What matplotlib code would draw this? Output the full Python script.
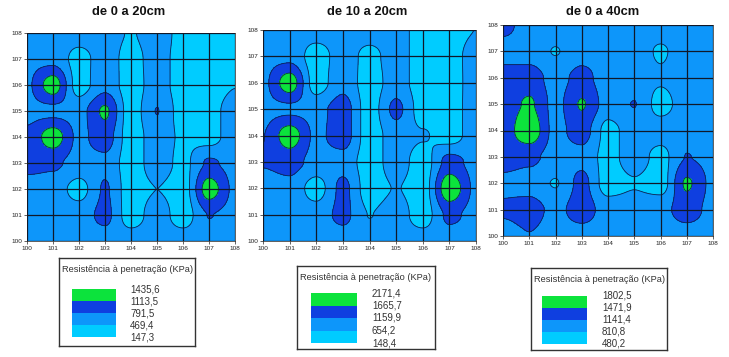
import numpy as np
import matplotlib
matplotlib.use("Agg")
import matplotlib.pyplot as plt

plt.rcParams['font.family'] = ['Liberation Sans', 'DejaVu Sans']

W, H = 729, 357
TITLES = ["de 0 a 20cm", "de 10 a 20cm", "de 0 a 40cm"]
LEGEND_TITLE = "Resistência à penetração (KPa)"
TICKS = list(range(100, 109))
COLORS = ["#00CCFF", "#0D96FA", "#0F3FE0", "#0CE33C"]

# node values in kPa, rows from y=100 (first) to y=108 (last), columns x=100..108
LEVELS_A = [147.3, 469.4, 791.5, 1113.5, 1435.6]
VALUES_A = [
    [640, 640, 640, 640, 640, 640, 640, 640, 640],
    [640, 640, 640, 880, 300, 640, 300, 800, 690],
    [640, 640, 340, 830, 300, 470, 320, 1280, 720],
    [900, 840, 690, 700, 300, 640, 380, 840, 690],
    [860, 1290, 720, 950, 300, 640, 420, 340, 640],
    [700, 690, 680, 1170, 300, 800, 320, 340, 640],
    [740, 1290, 320, 690, 300, 640, 300, 300, 460],
    [700, 700, 340, 640, 330, 640, 300, 300, 300],
    [640, 640, 640, 640, 440, 690, 330, 300, 300],
]
LEVELS_B = [148.4, 654.2, 1159.9, 1665.7, 2171.4]
VALUES_B = [
    [900, 900, 900, 900, 900, 900, 900, 900, 900],
    [900, 900, 900, 1300, 640, 900, 400, 1280, 1000],
    [900, 1000, 420, 1300, 400, 680, 400, 2050, 1050],
    [1200, 1350, 1000, 950, 400, 900, 400, 1350, 1000],
    [1150, 1950, 1050, 1400, 400, 900, 700, 420, 900],
    [1020, 1040, 1000, 1400, 400, 1300, 420, 420, 900],
    [1050, 1950, 400, 1000, 400, 900, 400, 400, 900],
    [1000, 1020, 400, 900, 500, 900, 400, 420, 900],
    [900, 900, 900, 900, 900, 900, 400, 400, 660],
]
LEVELS_C = [480.2, 810.8, 1141.4, 1471.9, 1802.5]
VALUES_C = [
    [980, 1130, 980, 980, 980, 980, 980, 980, 980],
    [1200, 1300, 1040, 1320, 980, 980, 1040, 1300, 1040],
    [1050, 980, 790, 1250, 650, 780, 650, 1520, 1060],
    [1300, 1220, 1020, 1020, 700, 980, 700, 1150, 1040],
    [1300, 1720, 1040, 1300, 700, 980, 980, 1000, 980],
    [1300, 1520, 1040, 1500, 1000, 1150, 680, 980, 980],
    [1300, 1300, 1020, 1250, 980, 980, 860, 980, 980],
    [980, 980, 795, 1000, 980, 980, 770, 980, 980],
    [1250, 980, 980, 980, 980, 980, 980, 980, 980],
]
LABELS_A = ["1435,6", "1113,5", "791,5", "469,4", "147,3"]
LABELS_B = ["2171,4", "1665,7", "1159,9", "654,2", "148,4"]
LABELS_C = ["1802,5", "1471,9", "1141,4", "810,8", "480,2"]


def blend_axis(a, n=24):
    """Smooth blending between nodes along axis 1, standing in for the original gridding."""
    a = np.asarray(a, float)
    m = a.shape[1]
    u = np.linspace(0, m - 1, (m - 1) * n + 1)
    i = np.minimum(u.astype(int), m - 2)
    t = (u - i)[None, :]
    s = t * t * (3 - 2 * t)
    return a[:, i] * (1 - s) + a[:, i + 1] * s


def smooth(z):
    return blend_axis(blend_axis(z).T).T


def rect(x0, y0, x1, y1):
    return [x0 / W, 1 - y1 / H, (x1 - x0) / W, (y1 - y0) / H]


fig = plt.figure(figsize=(W / 100, H / 100), dpi=100, facecolor="white")

panels = [
    (VALUES_A, LEVELS_A, LABELS_A, (27, 33, 235, 241), (59, 258, 195, 346), (72, 289, 116, 337), 130, 129),
    (VALUES_B, LEVELS_B, LABELS_B, (263, 30, 476, 241), (297, 266, 435, 349), (311, 293, 357, 343), 372, 367),
    (VALUES_C, LEVELS_C, LABELS_C, (503, 25, 713, 236), (531, 268, 667, 350), (542, 296, 587, 344), 602, 603),
]

for title, (vals, lev, labs, box, lbox, sw, lx, cx) in zip(TITLES, panels):
    ax = fig.add_axes(rect(*box))
    z = smooth(vals)
    g = np.linspace(TICKS[0], TICKS[-1], z.shape[0])
    bounds = [-1e5, lev[1], lev[2], lev[3], 1e5]
    ax.contourf(g, g, z, levels=bounds, colors=COLORS)
    ax.contour(g, g, z, levels=lev[1:4], colors="#0a2a50", linewidths=0.6)
    ax.set_xlim(TICKS[0], TICKS[-1])
    ax.set_ylim(TICKS[0], TICKS[-1])
    ax.set_xticks(TICKS)
    ax.set_yticks(TICKS)
    ax.tick_params(labelsize=4.6, length=2, width=0.5, pad=1.5, colors="#222222")
    ax.grid(True, color="#101828", linewidth=0.9)
    ax.set_axisbelow(False)
    for s in ax.spines.values():
        s.set_linewidth(0.6)
        s.set_color("#444444")
    fig.text(cx / W, 1 - 12 / H, title, ha="center", va="center",
             fontsize=9.3, fontweight="bold", color="#111111")

    # legend frame
    lg = fig.add_axes(rect(*lbox))
    lg.set_xlim(lbox[0], lbox[2])
    lg.set_ylim(lbox[3], lbox[1])
    lg.set_xticks([])
    lg.set_yticks([])
    for s in lg.spines.values():
        s.set_linewidth(1.0)
        s.set_color("#333333")
    lg.text((lbox[0] + lbox[2]) / 2, lbox[1] + 11, LEGEND_TITLE, ha="center", va="center",
            fontsize=6.7, color="#333333")
    for k, lab in enumerate(labs):
        y = sw[1] + (sw[3] - sw[1]) * k / (len(labs) - 1)
        lg.text(lx, y, lab, ha="left", va="center", fontsize=7, color="#333333")

    # legend colour swatch
    sa = fig.add_axes(rect(*sw))
    sa.barh(range(4), [1] * 4, height=1, color=COLORS)
    sa.set_xlim(0, 1)
    sa.set_ylim(-0.5, 3.5)
    sa.axis("off")

fig.savefig("out.png", dpi=100, facecolor="white")
